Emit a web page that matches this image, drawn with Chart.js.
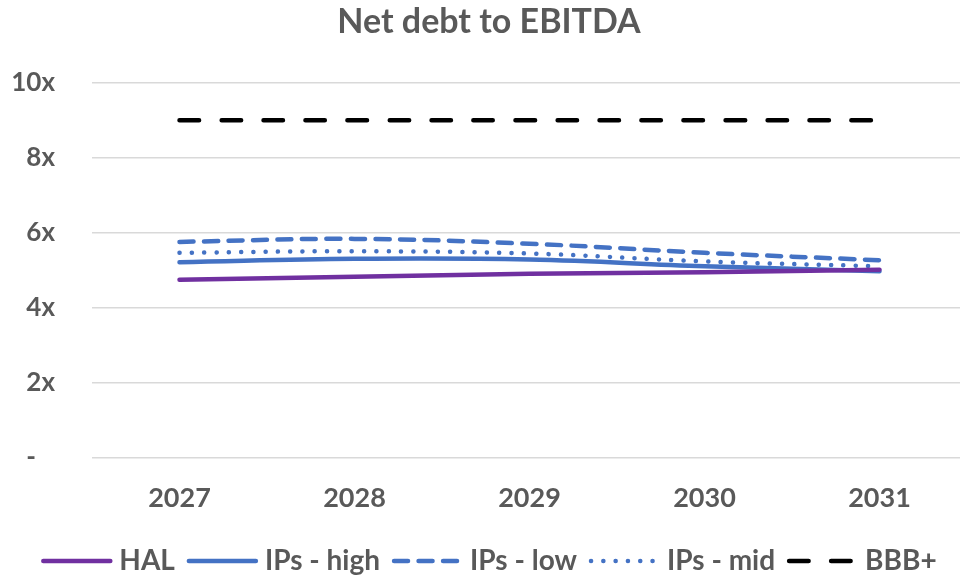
<!DOCTYPE html>
<html>
<head>
<meta charset="utf-8">
<title>Net debt to EBITDA</title>
<script src="https://cdn.jsdelivr.net/npm/chart.js@4"></script>
<style>
    html, body { margin: 0; padding: 0; background: #fff; overflow: hidden; }
    #wrap { width: 978px; height: 579px; }
</style>
</head>
<body>
<div id="wrap"><canvas id="myChart" width="978" height="579"></canvas></div>
<script>
const years = ["2027", "2028", "2029", "2030", "2031"];
const hal = [4.75, 4.83, 4.91, 4.95, 5.02];
const ipsHigh = [5.22, 5.31, 5.29, 5.11, 4.98];
const ipsLow = [5.76, 5.84, 5.71, 5.47, 5.27];
const ipsMid = [5.47, 5.51, 5.45, 5.24, 5.11];
const bbbPlus = [9, 9, 9, 9, 9];
const yTicks = [0, 2, 4, 6, 8, 10];

const grey = "#595959";
const purple = "#7030A0";
const blue = "#4472C4";
const sampleWidth = 64;

Chart.defaults.font.family = "Lato";
Chart.defaults.font.weight = "bold";
Chart.defaults.color = grey;

const lineSet = (label, data, color, dash) => ({
    label: label,
    data: data,
    borderColor: color,
    backgroundColor: color,
    borderWidth: 4.5,
    borderDash: dash,
    borderCapStyle: "round",
    borderJoinStyle: "round",
    pointRadius: 0,
    pointHoverRadius: 0,
    tension: 0.4,
    fill: false,
});

// legend samples: the built-in ones ignore the dash, so draw them here
const legendLines = {
    id: "legendLines",
    afterDraw: (chart) => {
        const { ctx, legend } = chart;
        if (!legend || !legend.legendHitBoxes) return;
        ctx.save();
        legend.legendItems.forEach((item, i) => {
            const box = legend.legendHitBoxes[i];
            const ds = chart.data.datasets[item.datasetIndex];
            const y = box.top + box.height / 2;
            ctx.beginPath();
            ctx.strokeStyle = ds.borderColor;
            ctx.lineWidth = ds.borderWidth;
            ctx.lineCap = "round";
            ctx.setLineDash(ds.borderDash || []);
            ctx.moveTo(box.left + 2, y);
            ctx.lineTo(box.left + sampleWidth + 5, y);
            ctx.stroke();
        });
        ctx.restore();
    },
};

new Chart(document.querySelector("#myChart"), {
    type: "line",
    data: {
        labels: years,
        datasets: [
            lineSet("HAL", hal, purple, []),
            lineSet("IPs - high", ipsHigh, blue, []),
            lineSet("IPs - low", ipsLow, blue, [14, 10.5]),
            lineSet("IPs - mid", ipsMid, blue, [0.1, 12.2]),
            lineSet("BBB+", bbbPlus, "#000000", [19.5, 22.5]),
        ],
    },
    options: {
        responsive: false,
        animation: false,
        devicePixelRatio: 1,
        layout: {
            padding: { left: 11, right: 11, top: 0, bottom: -6 },
        },
        plugins: {
            title: {
                display: true,
                text: "Net debt to EBITDA",
                color: grey,
                font: { size: 34, weight: "bold" },
                padding: { top: 2, bottom: 40 },
            },
            legend: {
                position: "bottom",
                labels: {
                    usePointStyle: true,
                    pointStyle: "line",
                    pointStyleWidth: sampleWidth,
                    boxHeight: 28,
                    padding: 12,
                    color: grey,
                    font: { size: 28, weight: "bold" },
                    generateLabels: (chart) =>
                        Chart.defaults.plugins.legend.labels
                            .generateLabels(chart)
                            .map((l) => ({ ...l, lineWidth: 0 })),
                },
            },
            tooltip: { enabled: false },
        },
        scales: {
            y: {
                min: 0,
                max: 10,
                afterBuildTicks: (scale) => {
                    scale.ticks = yTicks.map((v) => ({ value: v }));
                },
                afterFit: (scale) => {
                    scale.width = 81;
                },
                ticks: {
                    padding: 37,
                    color: grey,
                    font: { size: 26, weight: "bold" },
                    callback: (value) => (value === 0 ? "-   " : value + "x"),
                },
                grid: {
                    color: "#d9d9d9",
                    lineWidth: 1.5,
                    drawTicks: false,
                },
                border: { display: false },
            },
            x: {
                offset: true,
                afterFit: (scale) => {
                    scale.height = 77;
                },
                ticks: {
                    padding: 24,
                    color: grey,
                    font: { size: 27, weight: "bold" },
                },
                grid: { display: false, drawTicks: false, offset: true },
                border: { display: false },
            },
        },
    },
    plugins: [legendLines],
});
</script>
</body>
</html>
